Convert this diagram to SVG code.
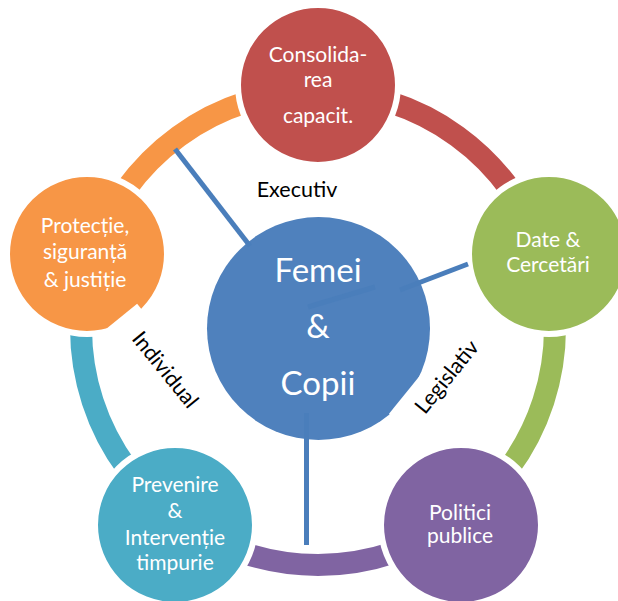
<svg xmlns="http://www.w3.org/2000/svg" width="618" height="601" viewBox="0 0 618 601">
<style>
.band{fill:none;stroke-width:22}
.node{stroke:#fff;stroke-width:6}
.nt{font-family:Lato,"Open Sans","Liberation Sans",sans-serif;font-size:21px;fill:#fff;text-anchor:middle}
.ct{font-family:Lato,"Open Sans","Liberation Sans",sans-serif;font-size:33px;fill:#fff;text-anchor:middle}
.lb{font-family:Lato,"Open Sans","Liberation Sans",sans-serif;font-size:21.5px;fill:#000;text-anchor:middle}
.ln{stroke:#4a7ebb;stroke-width:5;fill:none}
</style>
<rect width="618" height="601" fill="#fff"/>
<g id="ring">
<path class="band" stroke="#C0504D" d="M318,91 A237,237 0 0 1 543.4,254.8"/>
<path class="band" stroke="#9BBB59" d="M543.4,254.8 A237,237 0 0 1 457.3,519.7"/>
<path class="band" stroke="#8064A2" d="M457.3,519.7 A237,237 0 0 1 178.7,519.7"/>
<path class="band" stroke="#4BACC6" d="M178.7,519.7 A237,237 0 0 1 92.6,254.8"/>
<path class="band" stroke="#F79646" d="M92.6,254.8 A237,237 0 0 1 318,91"/>
</g>
<g id="n-consolidarea">
<circle class="node" cx="318" cy="85" r="80" fill="#C0504D"/>
<text class="nt" x="318" y="62">Consolida-</text>
<text class="nt" x="318" y="87">rea</text>
<text class="nt" x="318" y="123">capacit.</text>
</g>
<g id="n-date">
<circle class="node" cx="549" cy="254" r="80" fill="#9BBB59"/>
<text class="nt" x="548" y="247">Date &amp;</text>
<text class="nt" x="548" y="272">Cercetări</text>
</g>
<g id="n-politici">
<circle class="node" cx="461" cy="525" r="80" fill="#8064A2"/>
<text class="nt" x="460" y="520">Politici</text>
<text class="nt" x="460" y="543">publice</text>
</g>
<g id="n-prevenire">
<circle class="node" cx="175" cy="525" r="80" fill="#4BACC6"/>
<text class="nt" x="175" y="492">Prevenire</text>
<text class="nt" x="175" y="518">&amp;</text>
<text class="nt" x="175" y="545">Intervenție</text>
<text class="nt" x="175" y="570">timpurie</text>
</g>
<g id="n-protectie">
<circle class="node" cx="87" cy="254" r="80" fill="#F79646"/>
<text class="nt" x="85" y="233">Protecție,</text>
<text class="nt" x="85" y="259">siguranță</text>
<text class="nt" x="85" y="287">&amp; justiție</text>
</g>
<g id="n-center">
<circle cx="318.5" cy="328.5" r="111.5" fill="#4F81BD"/>
<text class="ct" x="318" y="282">Femei</text>
<text class="ct" x="318" y="338">&amp;</text>
<text class="ct" x="318" y="395">Copii</text>
</g>
<g id="labels">
<text class="lb" x="297" y="197">Executiv</text>
<g transform="translate(165,370) rotate(51)">
<rect x="-69" y="-20" width="138" height="40" fill="#fff"/>
<text class="lb" x="0" y="7">Individual</text>
</g>
<g transform="translate(447,377) rotate(-51)">
<rect x="-65" y="-22" width="130" height="44" fill="#fff"/>
<text class="lb" x="0" y="7">Legislativ</text>
</g>
</g>
<g id="connectors">
<line class="ln" x1="175" y1="149" x2="250" y2="246"/>
<line class="ln" x1="468" y1="264" x2="400" y2="290"/>
<line class="ln" x1="308" y1="307" x2="375" y2="287" stroke="#4677b3"/>
<line class="ln" x1="306.5" y1="413" x2="306.5" y2="545" stroke-width="4"/>
</g>
</svg>
